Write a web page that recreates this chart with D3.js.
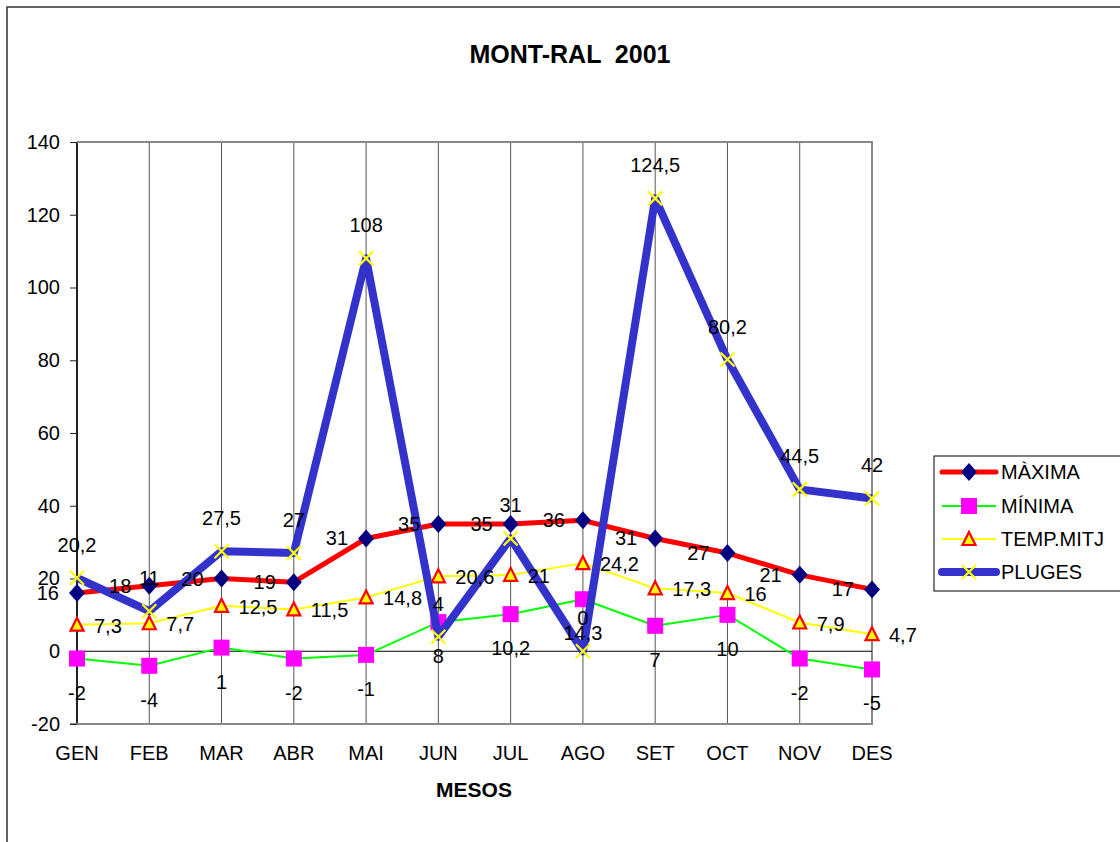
<!DOCTYPE html>
<html>
<head>
<meta charset="utf-8">
<script src="https://cdn.jsdelivr.net/npm/d3@7"></script>
<style>
  body { margin: 0; background: #fff; }
  text { font-family: "Liberation Sans", Arial, sans-serif; }
</style>
</head>
<body>
<div id="viz"></div>
<script>
// mesos i series - months and series
var mesos = ['GEN', 'FEB', 'MAR', 'ABR', 'MAI', 'JUN', 'JUL', 'AGO', 'SET', 'OCT', 'NOV', 'DES'];
var maxima = [16, 18, 20, 19, 31, 35, 35, 36, 31, 27, 21, 17];
var minima = [-2, -4, 1, -2, -1, 8, 10.2, 14.3, 7, 10, -2, -5];
var tempMitj = [7.3, 7.7, 12.5, 11.5, 14.8, 20.6, 21, 24.2, 17.3, 16, 7.9, 4.7];
var pluges = [20.2, 11, 27.5, 27, 108, 4, 31, 0, 124.5, 80.2, 44.5, 42];
var yTicks = [-20, 0, 20, 40, 60, 80, 100, 120, 140];

var width = 1120;
var height = 842;

var svg = d3.select('#viz')
.append('svg')
.attr('width', width)
.attr('height', height);

// marc exterior
svg.append('rect')
.attr('x', 7).attr('y', 7)
.attr('width', 1200).attr('height', 900)
.attr('fill', 'none')
.attr('stroke', '#333')
.attr('stroke-width', 1.5);

var x = d3.scalePoint()
.domain(mesos)
.range([77, 872]);

var y = d3.scaleLinear()
.domain([-20, 140])
.range([724, 142]);

// titol
svg.append('text')
.attr('x', 570).attr('y', 63)
.attr('text-anchor', 'middle')
.attr('font-size', '25px')
.attr('font-weight', 'bold')
.attr('xml:space', 'preserve')
.style('white-space', 'pre')
.text('MONT-RAL  2001');

// linies verticals - vertical grid
svg.append('g')
.selectAll('line')
.data(mesos)
.enter()
.append('line')
.attr('x1', function(d){ return x(d); })
.attr('x2', function(d){ return x(d); })
.attr('y1', y(140))
.attr('y2', y(-20))
.attr('stroke', function(d, i){ return i == 0 ? '#222' : '#555'; })
.attr('stroke-width', function(d, i){ return i == 0 ? 2 : 1; });

// vora superior, dreta i inferior
svg.append('line')
.attr('x1', 77).attr('x2', 873).attr('y1', y(140)).attr('y2', y(140))
.attr('stroke', '#888').attr('stroke-width', 2);
svg.append('line')
.attr('x1', 872).attr('x2', 872).attr('y1', y(140)).attr('y2', y(-20))
.attr('stroke', '#888').attr('stroke-width', 2);
svg.append('line')
.attr('x1', 70).attr('x2', 873).attr('y1', y(-20)).attr('y2', y(-20))
.attr('stroke', '#888').attr('stroke-width', 2);

// linia del zero
svg.append('line')
.attr('x1', 77).attr('x2', 872).attr('y1', y(0)).attr('y2', y(0))
.attr('stroke', '#000').attr('stroke-width', 1);

// eix Y
var yAxis = svg.append('g')
.attr('transform', 'translate(77,0)')
.call(d3.axisLeft(y).tickValues(yTicks).tickSize(7).tickPadding(10)
  .tickFormat(function(d){ return String(d); }));
yAxis.select('.domain').remove();
yAxis.selectAll('line').attr('stroke', '#222');
yAxis.selectAll('text').attr('font-size', '20px').attr('fill', '#000')
.style('font-family', '"Liberation Sans", Arial, sans-serif');

// eix X - etiquetes dels mesos
svg.append('g')
.selectAll('text')
.data(mesos)
.enter()
.append('text')
.attr('x', function(d){ return x(d); })
.attr('y', 760)
.attr('text-anchor', 'middle')
.attr('font-size', '20px')
.text(function(d){ return d; });

svg.append('text')
.attr('x', 474).attr('y', 797)
.attr('text-anchor', 'middle')
.attr('font-size', '21px')
.attr('font-weight', 'bold')
.text('MESOS');

var series = [
  {nom: 'MÀXIMA', vals: maxima, color: '#ff0000', w: 5, marker: 'diamond'},
  {nom: 'MÍNIMA', vals: minima, color: '#00ff00', w: 2, marker: 'square'},
  {nom: 'TEMP.MITJ', vals: tempMitj, color: '#ffff00', w: 2, marker: 'triangle'},
  {nom: 'PLUGES', vals: pluges, color: '#3333cc', w: 8, marker: 'cross'}
];

var line = d3.line()
.x(function(d){ return x(d.mes); })
.y(function(d){ return y(d.v); });

function drawMarker(g, tipus, cx, cy) {
  if (tipus == 'diamond') {
    g.append('path')
    .attr('d', 'M' + cx + ',' + (cy - 9) + 'L' + (cx + 8) + ',' + cy + 'L' + cx + ',' + (cy + 9) + 'L' + (cx - 8) + ',' + cy + 'Z')
    .attr('fill', '#000080');
  } else if (tipus == 'square') {
    g.append('rect')
    .attr('x', cx - 8).attr('y', cy - 8)
    .attr('width', 16).attr('height', 16)
    .attr('fill', '#ff00ff');
  } else if (tipus == 'triangle') {
    g.append('path')
    .attr('d', 'M' + cx + ',' + (cy - 7) + 'L' + (cx + 6.5) + ',' + (cy + 6) + 'L' + (cx - 6.5) + ',' + (cy + 6) + 'Z')
    .attr('fill', '#ffff00')
    .attr('stroke', '#ff0000')
    .attr('stroke-width', 2.2);
  } else {
    g.append('path')
    .attr('d', 'M' + (cx - 7) + ',' + (cy - 7) + 'L' + (cx + 7) + ',' + (cy + 7) + 'M' + (cx + 7) + ',' + (cy - 7) + 'L' + (cx - 7) + ',' + (cy + 7))
    .attr('stroke', '#ffff00')
    .attr('stroke-width', 2.2)
    .attr('fill', 'none');
  }
}

// series - lines and markers
series.forEach(function(s){
  var pts = s.vals.map(function(v, i){ return {mes: mesos[i], v: v}; });
  var g = svg.append('g').attr('class', 'serie');
  g.append('path')
  .datum(pts)
  .attr('d', line)
  .attr('fill', 'none')
  .attr('stroke', s.color)
  .attr('stroke-width', s.w)
  .attr('stroke-linejoin', 'round');
  pts.forEach(function(p){
    drawMarker(g, s.marker, x(p.mes), y(p.v));
  });
});

// etiquetes de dades - data labels
function fmt(v){ return String(v).replace('.', ','); }

var labelG = svg.append('g').attr('font-size', '20px');

maxima.forEach(function(v, i){
  labelG.append('text')
  .attr('x', x(mesos[i]) - 18)
  .attr('y', y(v) + 7)
  .attr('text-anchor', 'end')
  .text(fmt(v));
});
minima.forEach(function(v, i){
  labelG.append('text')
  .attr('x', x(mesos[i]))
  .attr('y', y(v) + 41)
  .attr('text-anchor', 'middle')
  .text(fmt(v));
});
tempMitj.forEach(function(v, i){
  labelG.append('text')
  .attr('x', x(mesos[i]) + 17)
  .attr('y', y(v) + 8)
  .attr('text-anchor', 'start')
  .text(fmt(v));
});
pluges.forEach(function(v, i){
  labelG.append('text')
  .attr('x', x(mesos[i]))
  .attr('y', y(v) - 26)
  .attr('text-anchor', 'middle')
  .text(fmt(v));
});

// llegenda - legend
var leg = svg.append('g');
leg.append('rect')
.attr('x', 934).attr('y', 456)
.attr('width', 300).attr('height', 135)
.attr('fill', '#fff')
.attr('stroke', '#000')
.attr('stroke-width', 1);

var legY = [472, 506, 539, 572];
series.forEach(function(s, i){
  leg.append('line')
  .attr('x1', 942).attr('x2', 996)
  .attr('y1', legY[i]).attr('y2', legY[i])
  .attr('stroke', s.color)
  .attr('stroke-width', s.w)
  .attr('stroke-linecap', s.w > 3 ? 'round' : 'butt');
  drawMarker(leg, s.marker, 969, legY[i]);
  leg.append('text')
  .attr('x', 1001)
  .attr('y', legY[i] + 7)
  .attr('font-size', '20px')
  .text(s.nom);
});
</script>
</body>
</html>
